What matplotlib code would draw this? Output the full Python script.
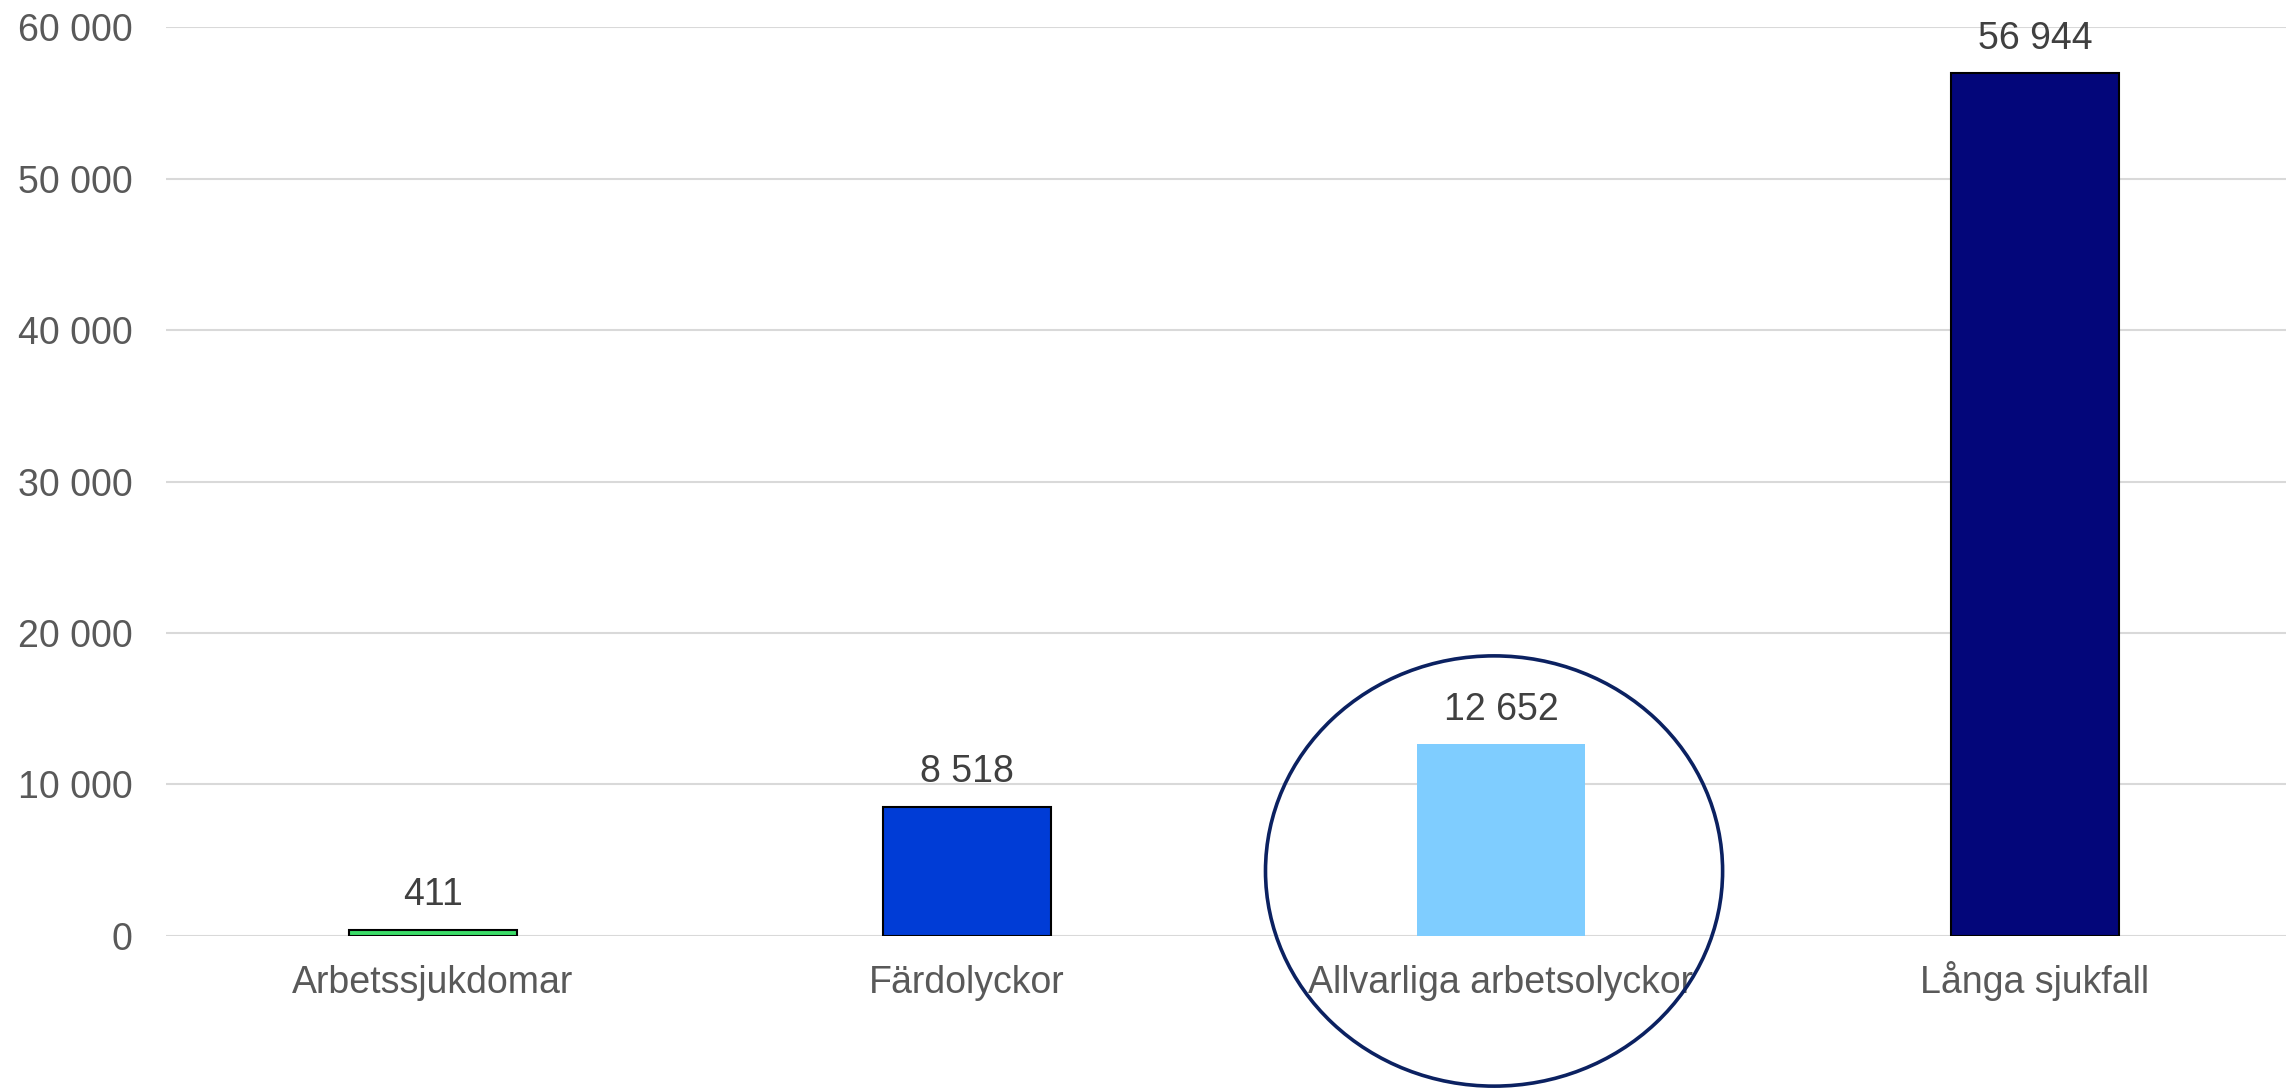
import matplotlib.pyplot as plt
from matplotlib.patches import Ellipse
from matplotlib.ticker import FuncFormatter

plt.rcParams['font.family'] = ['Liberation Sans', 'DejaVu Sans']

# data
categories = ['Arbetssjukdomar', 'Färdolyckor', 'Allvarliga arbetsolyckor', 'Långa sjukfall']
values = [411, 8518, 12652, 56944]
colors = ['#3BDC68', '#003CD6', '#7FCDFF', '#03067A']
edges = ['black', 'black', 'none', 'black']
highlight = 2

def sv(v, pos=None):
    return f'{int(v):,}'.replace(',', ' ')

fig = plt.figure(figsize=(22.86, 10.89), dpi=100)
ax = fig.add_axes([0.0726, 0.1405, 0.9344, 0.8347])

x = range(len(categories))
ax.bar(x, values, width=0.315, color=colors, edgecolor=edges, linewidth=1.5, zorder=3)

for i, v in enumerate(values):
    ax.annotate(sv(v), (i, v), xytext=(0, 12), textcoords='offset points',
                ha='center', va='bottom', fontsize=27, color='#404040')

ax.set_xlim(-0.5, len(categories) - 0.5)
ax.set_ylim(0, 60000)
ax.set_yticks(range(0, 60001, 10000))
ax.yaxis.set_major_formatter(FuncFormatter(sv))
ax.set_xticks(list(x))
ax.set_xticklabels(categories, va='baseline')
ax.tick_params(axis='both', length=0, labelsize=27, colors='#595959')
ax.tick_params(axis='x', pad=41)
ax.tick_params(axis='y', pad=24)
ax.grid(axis='y', color='#D9D9D9', linewidth=1.5, zorder=0)
for s in ax.spines.values():
    s.set_visible(False)

# highlight ring around the third category
ring = Ellipse((highlight - 0.013, 4290), 0.856, 28400, fill=False,
               edgecolor='#0B2161', linewidth=2.6, clip_on=False, zorder=4)
ax.add_patch(ring)

fig.savefig('out.png', dpi=100, facecolor='white')
